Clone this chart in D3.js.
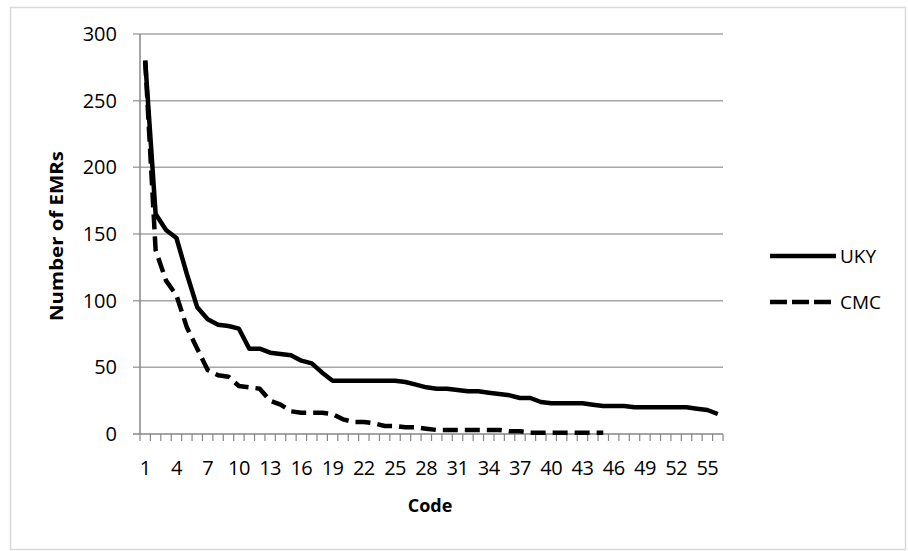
<!DOCTYPE html>
<html>
<head>
<meta charset="utf-8">
<script src="https://cdn.jsdelivr.net/npm/d3@7"></script>
<style>
  html, body { margin: 0; padding: 0; background: #fff; }
  svg { display: block; }
  text { font-family: "Open Sans", "Noto Sans", sans-serif; fill: #000; }
</style>
</head>
<body>
<div id="chart"></div>
<script>
(function () {
  'use strict';

  // Codes 1..56 on the category axis
  const CODES = d3.range(1, 57);

  // Number of EMRs per code
  const UKY = [280, 165, 153, 147, 120, 95, 86, 82, 81, 79,
               64, 64, 61, 60, 59, 55, 53, 46, 40, 40,
               40, 40, 40, 40, 40, 39, 37, 35, 34, 34,
               33, 32, 32, 31, 30, 29, 27, 27, 24, 23,
               23, 23, 23, 22, 21, 21, 21, 20, 20, 20,
               20, 20, 20, 19, 18, 15];
  const CMC = [280, 138, 115, 104, 80, 64, 48, 44, 43, 36,
               35, 34, 25, 22, 17, 16, 16, 16, 15, 11,
               9, 9, 8, 6, 6, 5, 5, 4, 3, 3,
               3, 3, 3, 3, 3, 2, 2, 1, 1, 1,
               1, 1, 1, 1, 1];

  const Y_TICKS = [0, 50, 100, 150, 200, 250, 300];

  const SERIES = [
    { name: 'UKY', values: UKY, dash: null },
    { name: 'CMC', values: CMC, dash: '15,7' },
  ];

  const W = 908, H = 551;
  const plot = { left: 140, right: 723, top: 34, bottom: 434 };
  const GRID = '#a6a6a6';
  const AXIS = '#868686';

  const svg = d3.select('#chart').append('svg')
    .attr('width', W).attr('height', H);

  // Outer chart border
  svg.append('rect')
    .attr('x', 10.5).attr('y', 7.5)
    .attr('width', 895).attr('height', 542)
    .attr('fill', '#fff').attr('stroke', '#d9d9d9').attr('stroke-width', 1.5);

  const x = d3.scaleBand().domain(CODES).range([plot.left, plot.right]).paddingInner(0);
  const y = d3.scaleLinear().domain([0, 300]).range([plot.bottom, plot.top]);
  const cx = d => x(d) + x.bandwidth() / 2;

  // Gridlines + y labels
  Y_TICKS.forEach(t => {
    svg.append('line')
      .attr('x1', plot.left - 7).attr('x2', plot.right)
      .attr('y1', y(t)).attr('y2', y(t))
      .attr('stroke', t === 0 ? AXIS : GRID).attr('stroke-width', 1.5);
    svg.append('text')
      .attr('x', 117).attr('y', y(t) + 7)
      .attr('text-anchor', 'end')
      .attr('font-size', 20)
      .text(t);
  });

  // Y axis line
  svg.append('line')
    .attr('x1', plot.left).attr('x2', plot.left)
    .attr('y1', plot.top).attr('y2', plot.bottom)
    .attr('stroke', AXIS).attr('stroke-width', 1.5);

  // X tick marks at category boundaries
  const bounds = CODES.map(c => x(c)).concat([plot.right]);
  bounds.forEach(bx => {
    svg.append('line')
      .attr('x1', bx).attr('x2', bx)
      .attr('y1', plot.bottom).attr('y2', plot.bottom + 7)
      .attr('stroke', AXIS).attr('stroke-width', 1.2);
  });

  // X labels every third code
  CODES.filter(c => (c - 1) % 3 === 0).forEach(c => {
    svg.append('text')
      .attr('x', cx(c)).attr('y', 475)
      .attr('text-anchor', 'middle')
      .attr('font-size', 20)
      .attr('letter-spacing', -0.5)
      .text(c);
  });

  // Axis titles
  svg.append('text')
    .attr('x', 430).attr('y', 512)
    .attr('text-anchor', 'middle')
    .attr('font-size', 18).attr('font-weight', 700)
    .text('Code');

  svg.append('text')
    .attr('transform', 'translate(63,236) rotate(-90)')
    .attr('text-anchor', 'middle')
    .attr('font-size', 17).attr('font-weight', 700)
    .attr('textLength', 170).attr('lengthAdjust', 'spacingAndGlyphs')
    .text('Number of EMRs');

  // Series lines
  const line = d3.line()
    .x((d, i) => cx(CODES[i]))
    .y(d => y(d));

  SERIES.forEach(s => {
    svg.append('path')
      .datum(s.values)
      .attr('d', line)
      .attr('fill', 'none')
      .attr('stroke', '#000')
      .attr('stroke-width', 4.5)
      .attr('stroke-linejoin', 'round')
      .attr('stroke-dasharray', s.dash);
  });

  // Legend
  SERIES.forEach((s, i) => {
    const ly = 256 + i * 46;
    svg.append('line')
      .attr('x1', 770).attr('x2', 836)
      .attr('y1', ly).attr('y2', ly)
      .attr('stroke', '#000').attr('stroke-width', 4.5)
      .attr('stroke-dasharray', s.dash ? '17,5' : null);
    svg.append('text')
      .attr('x', 840).attr('y', ly + 7)
      .attr('font-size', 19)
      .text(s.name);
  });
})();
</script>
</body>
</html>
